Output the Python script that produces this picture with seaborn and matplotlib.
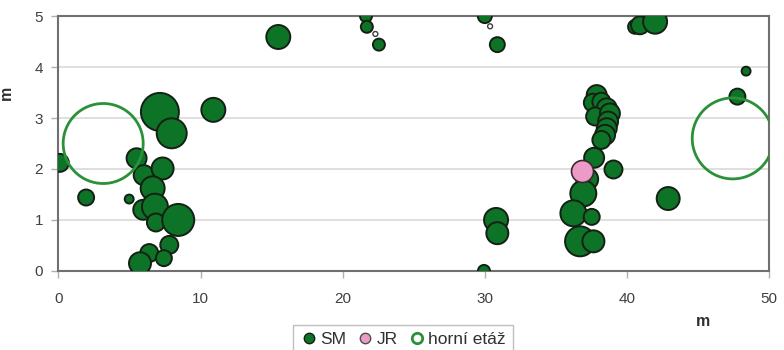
import numpy as np
import pandas as pd
import matplotlib
matplotlib.use("Agg")
import matplotlib.pyplot as plt
from matplotlib.lines import Line2D
import seaborn as sns

# SM – position (m) and bubble size value
sm_x = [0.1, 1.95, 4.98, 5.5, 6.0, 7.33, 6.63, 5.97, 6.79, 6.86, 8.43, 7.14, 7.97, 10.9,
        7.8, 6.39, 7.42, 5.74, 15.47, 21.64, 21.7, 22.55, 30.0, 30.88, 30.79, 30.88, 29.94,
        37.69, 39.05, 37.2, 36.93, 36.23, 37.52, 36.7, 37.64, 42.9,
        37.87, 37.6, 38.2, 38.58, 37.76, 38.8, 38.67, 38.58, 38.46, 38.2,
        40.57, 40.92, 41.98, 48.38, 47.77]
sm_y = [2.12, 1.44, 1.41, 2.21, 1.88, 2.01, 1.62, 1.20, 1.26, 0.95, 1.0, 3.12, 2.70, 3.16,
        0.51, 0.35, 0.25, 0.15, 4.59, 5.0, 4.79, 4.44, 5.0, 4.44, 1.0, 0.74, 0.0,
        2.22, 1.99, 1.80, 1.52, 1.13, 1.06, 0.58, 0.58, 1.42,
        3.45, 3.30, 3.32, 3.19, 3.03, 3.09, 2.93, 2.80, 2.67, 2.57,
        4.79, 4.82, 4.89, 3.92, 3.42]
sm_v = [8.1, 6.4, 2.0, 10.0, 10.0, 12.1, 14.4, 10.0, 16.9, 8.1, 25.6, 36.1, 22.5, 14.4,
        8.1, 8.1, 6.4, 12.1, 14.4, 3.6, 3.6, 3.6, 4.9, 5.6, 14.4, 12.1, 3.6,
        10.0, 8.1, 12.1, 16.9, 16.9, 6.4, 22.5, 12.1, 13.2,
        10.0, 8.1, 8.1, 10.0, 8.1, 10.0, 10.0, 10.0, 10.0, 8.1,
        4.9, 8.1, 14.4, 2.0, 6.4]

# JR
jr_x = [36.82]
jr_y = [1.97]
jr_v = [12.1]

# dead stems (small open markers)
dead_x = [22.3, 30.37]
dead_y = [4.65, 4.80]
dead_v = [0.6, 0.6]

# horní etáž
he_x = [3.15, 47.44]
he_y = [2.50, 2.60]
he_v = [160.0, 164.0]

x_ticks = [0, 10, 20, 30, 40, 50]
y_ticks = [0, 1, 2, 3, 4, 5]

sm = pd.DataFrame({"x": sm_x, "y": sm_y, "v": sm_v})
jr = pd.DataFrame({"x": jr_x, "y": jr_y, "v": jr_v})
dead = pd.DataFrame({"x": dead_x, "y": dead_y, "v": dead_v})
he = pd.DataFrame({"x": he_x, "y": he_y, "v": he_v})

sns.set_theme(style="white")
plt.rcParams["font.family"] = ["Liberation Sans", "DejaVu Sans"]

fig = plt.figure(figsize=(7.84, 3.5), dpi=100)
ax = fig.add_axes([0.0745, 0.226, 0.9065, 0.728])

# bubble area proportional to value; one common scale (area per unit value)
area_per_unit = (1.44 * 20) ** 2 / 40.0

def bubble_scale(vmax):
    return dict(sizes=(0, area_per_unit * vmax), size_norm=(0, vmax))

SM_FILL = "#0d7326"
SM_EDGE = "#152015"
JR_FILL = "#ec9ac6"
HE_EDGE = "#2b9139"

sns.scatterplot(data=sm, x="x", y="y", size="v", **bubble_scale(40),
                color=SM_FILL, edgecolor=SM_EDGE, linewidth=1.4, legend=False,
                ax=ax, zorder=3)
sns.scatterplot(data=jr, x="x", y="y", size="v", **bubble_scale(40),
                color=JR_FILL, edgecolor="#3a2a30", linewidth=1.2, legend=False,
                ax=ax, zorder=4)
sns.scatterplot(data=dead, x="x", y="y", size="v", **bubble_scale(40),
                color="white", edgecolor="#404040", linewidth=1.0, legend=False,
                ax=ax, zorder=4)
sns.scatterplot(data=he, x="x", y="y", size="v", **bubble_scale(200),
                facecolor="none", edgecolor=HE_EDGE, linewidth=2.0, legend=False,
                ax=ax, zorder=5)

ax.set_xlim(0, 50)
ax.set_ylim(0, 5)
ax.set_xticks(x_ticks)
ax.set_yticks(y_ticks)
ax.set_xticklabels([str(t) for t in x_ticks])
ax.set_yticklabels([str(t) for t in y_ticks])

for yv in y_ticks[1:-1]:
    ax.axhline(yv, color="#dcdcdc", linewidth=1.3, zorder=1)

for side in ["left", "bottom", "top", "right"]:
    ax.spines[side].set_visible(True)
    ax.spines[side].set_color("#707070")
    ax.spines[side].set_linewidth(1.5)

ax.tick_params(axis="both", which="major", direction="out", length=5, width=1,
               color="#b0b0b0", labelsize=11, labelcolor="#404040", pad=6,
               bottom=True, left=True)
ax.tick_params(axis="x", pad=10)

ax.set_xlabel("m", fontsize=11.5, fontweight="bold", color="#303030")
ax.set_ylabel("m", fontsize=11.5, fontweight="bold", color="#303030")
ax.xaxis.set_label_coords(0.907, -0.17)
ax.yaxis.set_label_coords(-0.063, 0.70)

handles = [
    Line2D([], [], marker="o", linestyle="none", markersize=7.5,
           markerfacecolor=SM_FILL, markeredgecolor=SM_EDGE, markeredgewidth=1.0,
           label="SM"),
    Line2D([], [], marker="o", linestyle="none", markersize=7.5,
           markerfacecolor=JR_FILL, markeredgecolor="#505050", markeredgewidth=1.0,
           label="JR"),
    Line2D([], [], marker="o", linestyle="none", markersize=7.5,
           markerfacecolor="white", markeredgecolor=HE_EDGE, markeredgewidth=2.0,
           label="horní etáž"),
]
leg = fig.legend(handles=handles, loc="upper center", bbox_to_anchor=(0.514, 0.097),
                 ncol=3, frameon=True, fontsize=12.5, handletextpad=0.15,
                 columnspacing=0.6, borderpad=0.4, fancybox=False,
                 handlelength=1.0)
leg.get_frame().set_edgecolor("#b0b0b0")
leg.get_frame().set_linewidth(1.0)
for t in leg.get_texts():
    t.set_color("#303030")

fig.savefig("out.png", dpi=100)
